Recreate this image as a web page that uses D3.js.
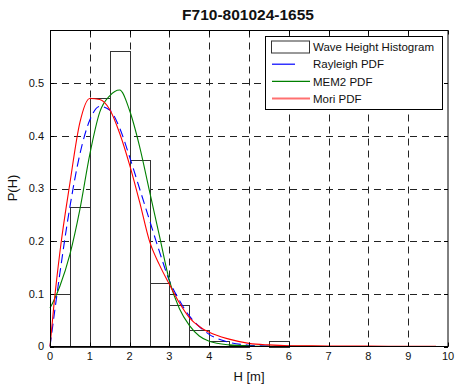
<!DOCTYPE html>
<html>
<head>
<meta charset="UTF-8">
<script src="https://d3js.org/d3.v7.min.js"></script>
<style>
  body { margin: 0; background: #fff; }
  svg { display: block; font-family: "Liberation Sans", Arial, sans-serif; }
</style>
</head>
<body>
<svg id="chart" width="455" height="388"></svg>
<script>
// histogram bins (left edge, m) and heights
const binStart = [0, 0.5, 1, 1.5, 2, 2.5, 3, 3.5, 4, 4.5, 5, 5.5];
const histValues = [0.10, 0.265, 0.472, 0.562, 0.355, 0.12, 0.078, 0.031, 0.011, 0.003, 0, 0.011];
const binWidth = 0.5;

// wave height samples for PDF curves
const hValues = [0, 0.1, 0.25, 0.5, 0.75, 1, 1.25, 1.5, 1.75, 2, 2.25, 2.5, 2.75, 3, 3.25, 3.5, 3.75, 4, 4.5, 5, 5.5, 6, 7, 8, 9, 9.7];
const rayleigh = [0, 0.057, 0.14, 0.265, 0.365, 0.43, 0.456, 0.449, 0.415, 0.36, 0.30, 0.24, 0.18, 0.125, 0.088, 0.058, 0.038, 0.023, 0.008, 0.0025, 0.0007, 0.0002, 0, 0, 0, 0];
const mem2 = [0.073, 0.088, 0.115, 0.175, 0.26, 0.365, 0.445, 0.476, 0.487, 0.448, 0.38, 0.295, 0.21, 0.125, 0.072, 0.04, 0.02, 0.01, 0.003, 0.001, 0.0005, 0.0003, 0.0001, 0, 0, 0];
const mori = [0, 0.08, 0.18, 0.31, 0.425, 0.471, 0.469, 0.45, 0.405, 0.345, 0.275, 0.20, 0.155, 0.118, 0.083, 0.055, 0.038, 0.027, 0.014, 0.006, 0.003, 0.0015, 0.001, 0.0007, 0.0005, 0.0003];

const xTicks = [0, 1, 2, 3, 4, 5, 6, 7, 8, 9, 10];
const yTicks = [0, 0.1, 0.2, 0.3, 0.4, 0.5];

const legendItems = [
  { label: "Wave Height Histogram", type: "rect" },
  { label: "Rayleigh PDF", color: "#0000ff", len: 23 },
  { label: "MEM2 PDF", color: "#008000", len: 38 },
  { label: "Mori PDF", color: "#ff7070", len: 38, width: 2 }
];

const svg = d3.select("#chart");
const pLeft = 50, pRight = 448, pTop = 30.5, pBottom = 346.5;

const x = d3.scaleLinear().domain([0, 10]).range([pLeft, pRight]);
const y = d3.scaleLinear().domain([0, 0.6]).range([pBottom, pTop]);

// grid
const grid = svg.append("g").attr("stroke", "#222").attr("stroke-width", 1).attr("stroke-dasharray", "7,5");
grid.selectAll("line.gx").data(xTicks.slice(1, -1)).join("line")
  .attr("x1", d => Math.round(x(d)) + 0.5).attr("x2", d => Math.round(x(d)) + 0.5)
  .attr("y1", pTop).attr("y2", pBottom);
grid.selectAll("line.gy").data(yTicks.slice(1)).join("line")
  .attr("y1", d => Math.round(y(d)) + 0.5).attr("y2", d => Math.round(y(d)) + 0.5)
  .attr("x1", pLeft).attr("x2", pRight);

// bars
svg.append("g").selectAll("rect").data(binStart).join("rect")
  .attr("x", d => Math.round(x(d)) + 0.5)
  .attr("width", d => Math.round(x(d + binWidth)) - Math.round(x(d)))
  .attr("y", (d, i) => Math.round(y(histValues[i])) + 0.5)
  .attr("height", (d, i) => Math.round(y(0)) - Math.round(y(histValues[i])))
  .attr("fill", "#fff").attr("stroke", "#333").attr("stroke-width", 1)
  .style("display", (d, i) => histValues[i] > 0 ? null : "none");

// curves
const line = d3.line().x(d => x(d[0])).y(d => y(d[1])).curve(d3.curveMonotoneX);
const curves = [
  { values: rayleigh, color: "#0000ff", dash: "9,5" },
  { values: mem2, color: "#008000", dash: null },
  { values: mori, color: "#ff0000", dash: null }
];
svg.append("g").selectAll("path").data(curves).join("path")
  .attr("d", c => line(hValues.map((h, i) => [h, c.values[i]])))
  .attr("fill", "none").attr("stroke", c => c.color).attr("stroke-width", 1.1)
  .attr("stroke-dasharray", c => c.dash);

// axes box
svg.append("rect").attr("x", pLeft + 0.5).attr("y", pTop).attr("width", pRight - pLeft - 0.5).attr("height", pBottom - pTop)
  .attr("fill", "none").attr("stroke", "#000").attr("stroke-width", 1);

// inward ticks on all sides
const ticks = svg.append("g").attr("stroke", "#000").attr("stroke-width", 1);
xTicks.forEach(t => {
  const px = Math.round(x(t)) + 0.5;
  ticks.append("line").attr("x1", px).attr("x2", px).attr("y1", pBottom).attr("y2", pBottom - 4);
  ticks.append("line").attr("x1", px).attr("x2", px).attr("y1", pTop).attr("y2", pTop + 4);
});
yTicks.forEach(t => {
  const py = Math.round(y(t)) + 0.5;
  ticks.append("line").attr("x1", pLeft).attr("x2", pLeft + 4).attr("y1", py).attr("y2", py);
  ticks.append("line").attr("x1", pRight).attr("x2", pRight - 4).attr("y1", py).attr("y2", py);
});

// tick labels
svg.append("g").selectAll("text").data(xTicks).join("text")
  .attr("x", d => x(d)).attr("y", 360).attr("text-anchor", "middle")
  .attr("font-size", 11).attr("fill", "#111").text(d => d);
svg.append("g").selectAll("text").data(yTicks).join("text")
  .attr("x", 44).attr("y", d => y(d)).attr("dy", "0.36em").attr("text-anchor", "end")
  .attr("font-size", 11).attr("fill", "#111").text(d => d === 0 ? "0" : d3.format(".1f")(d));

// axis labels and title
svg.append("text").attr("x", 249).attr("y", 381).attr("text-anchor", "middle")
  .attr("font-size", 13).attr("fill", "#111").text("H [m]");
svg.append("text").attr("transform", "translate(17,188) rotate(-90)").attr("text-anchor", "middle")
  .attr("font-size", 13).attr("fill", "#111").text("P(H)");
svg.append("text").attr("x", 248).attr("y", 19.5).attr("text-anchor", "middle")
  .attr("font-size", 15.5).attr("font-weight", "bold").attr("fill", "#111").text("F710-801024-1655");

// legend
const lg = svg.append("g");
lg.append("rect").attr("x", 265.5).attr("y", 36.5).attr("width", 177).attr("height", 73)
  .attr("fill", "#fff").attr("stroke", "#000").attr("stroke-width", 1);
legendItems.forEach((item, i) => {
  const cy = 47 + i * 17.2;
  if (item.type === "rect") {
    lg.append("rect").attr("x", 271.5).attr("y", cy - 6).attr("width", 38).attr("height", 12)
      .attr("fill", "#fff").attr("stroke", "#333");
  } else {
    lg.append("line").attr("x1", 272).attr("x2", 272 + item.len).attr("y1", cy).attr("y2", cy)
      .attr("stroke", item.color).attr("stroke-width", item.width || 1.2);
  }
  lg.append("text").attr("x", 313).attr("y", cy).attr("dy", "0.36em")
    .attr("font-size", 11.5).attr("fill", "#111").text(item.label);
});
</script>
</body>
</html>
